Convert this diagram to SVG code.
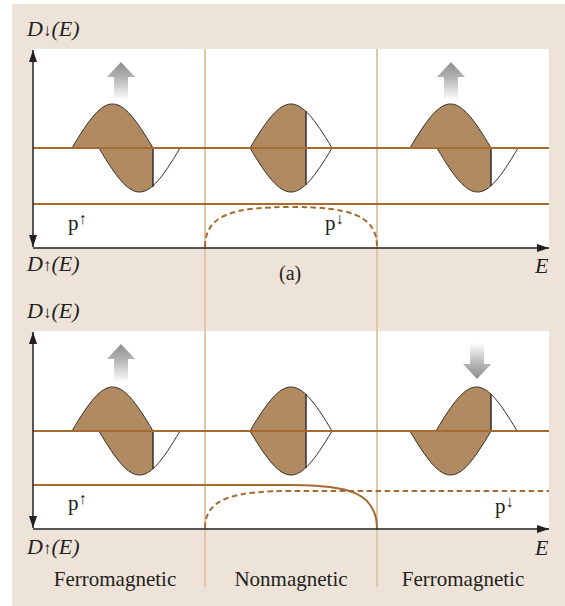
<svg xmlns="http://www.w3.org/2000/svg" width="565" height="606" viewBox="0 0 565 606">
<style>
.bg{fill:#ede3d8}
.panel{fill:#ffffff}
.div{stroke:#e0c7a9;stroke-width:2;fill:none}
.fl{fill:#b08a60;stroke:none}
.cv{fill:none;stroke:#3a2f27;stroke-width:1}
.vl{stroke:#2a2420;stroke-width:1.4}
.br{stroke:#a76a30;stroke-width:2;fill:none}
.dash{stroke:#a76a30;stroke-width:2;fill:none;stroke-dasharray:5.5,3.5}
.ax{stroke:#231f20;stroke-width:1.5;fill:none}
text{fill:#231f20}
.it{font-style:italic}
</style>
<defs>
<marker id="ah" viewBox="0 0 12 8" refX="12" refY="4" markerWidth="12" markerHeight="8" markerUnits="userSpaceOnUse" orient="auto-start-reverse">
<path d="M0,0 L12,4 L0,8 Z" fill="#231f20"/>
</marker>
<linearGradient id="gUp" x1="0" y1="0" x2="0" y2="1">
<stop offset="0" stop-color="#8e8e8e"/>
<stop offset="0.4" stop-color="#b2b2b2"/>
<stop offset="1" stop-color="#ffffff"/>
</linearGradient>
<linearGradient id="gDn" x1="0" y1="0" x2="0" y2="1">
<stop offset="0" stop-color="#ffffff"/>
<stop offset="0.6" stop-color="#b2b2b2"/>
<stop offset="1" stop-color="#8e8e8e"/>
</linearGradient>
<clipPath id="cL"><rect x="0" y="0" width="153" height="606"/></clipPath>
<clipPath id="cC"><rect x="0" y="0" width="306" height="606"/></clipPath>
<clipPath id="cR"><rect x="0" y="0" width="491" height="606"/></clipPath>
</defs>

<rect class="bg" x="12" y="4" width="553" height="602"/>
<rect class="panel" x="33" y="49" width="516" height="199"/>
<rect class="panel" x="33" y="331" width="516" height="198"/>

<g id="dividers">
<line class="div" x1="205" y1="49" x2="205" y2="587"/>
<line class="div" x1="377" y1="49" x2="377" y2="587"/>
</g>

<!-- Panel (a) -->
<g id="a-left">
<path class="fl" d="M72,148 C106.4,89.3 118.6,89.3 153,148 Z"/>
<path class="cv" d="M72,148 C106.4,89.3 118.6,89.3 153,148"/>
<path class="fl" clip-path="url(#cL)" d="M99,148 C133.4,206.7 145.6,206.7 180,148 Z"/>
<path class="cv" d="M99,148 C133.4,206.7 145.6,206.7 180,148"/>
<line class="vl" x1="153" y1="148" x2="153" y2="187"/>
<polygon fill="url(#gUp)" points="121,62 135,77 128,77 128,100 114,100 114,77 107,77"/>
</g>
<g id="a-center">
<path class="fl" clip-path="url(#cC)" d="M250,148 C284.8,89.3 297.2,89.3 332,148 C297.2,206.7 284.8,206.7 250,148 Z"/>
<path class="cv" d="M250,148 C284.8,89.3 297.2,89.3 332,148 C297.2,206.7 284.8,206.7 250,148"/>
<line class="vl" x1="306" y1="111" x2="306" y2="185"/>
</g>
<g id="a-right">
<path class="fl" d="M410,148 C444.4,89.3 456.6,89.3 491,148 Z"/>
<path class="cv" d="M410,148 C444.4,89.3 456.6,89.3 491,148"/>
<path class="fl" clip-path="url(#cR)" d="M437,148 C471.4,206.7 483.6,206.7 518,148 Z"/>
<path class="cv" d="M437,148 C471.4,206.7 483.6,206.7 518,148"/>
<line class="vl" x1="491" y1="148" x2="491" y2="186"/>
<polygon fill="url(#gUp)" points="451,62 465,77 458,77 458,100 444,100 444,77 437,77"/>
</g>

<!-- Panel (b) -->
<g id="b-left">
<path class="fl" d="M72,431 C106.4,372.3 118.6,372.3 153,431 Z"/>
<path class="cv" d="M72,431 C106.4,372.3 118.6,372.3 153,431"/>
<path class="fl" clip-path="url(#cL)" d="M99,431 C133.4,489.7 145.6,489.7 180,431 Z"/>
<path class="cv" d="M99,431 C133.4,489.7 145.6,489.7 180,431"/>
<line class="vl" x1="153" y1="431" x2="153" y2="469"/>
<polygon fill="url(#gUp)" points="121,344 135,359 128,359 128,382 114,382 114,359 107,359"/>
</g>
<g id="b-center">
<path class="fl" clip-path="url(#cC)" d="M250,431 C284.8,372.3 297.2,372.3 332,431 C297.2,489.7 284.8,489.7 250,431 Z"/>
<path class="cv" d="M250,431 C284.8,372.3 297.2,372.3 332,431 C297.2,489.7 284.8,489.7 250,431"/>
<line class="vl" x1="306" y1="394" x2="306" y2="468"/>
</g>
<g id="b-right">
<path class="fl" clip-path="url(#cR)" d="M436,431 C470.4,372.3 482.6,372.3 517,431 Z"/>
<path class="cv" d="M436,431 C470.4,372.3 482.6,372.3 517,431"/>
<path class="fl" d="M410,431 C444.4,489.7 456.6,489.7 491,431 Z"/>
<path class="cv" d="M410,431 C444.4,489.7 456.6,489.7 491,431"/>
<line class="vl" x1="491" y1="431" x2="491" y2="394"/>
<polygon fill="url(#gDn)" points="470,343 484,343 484,364 491,364 477,379 463,364 470,364"/>
</g>

<g id="connectors">
<line class="br" x1="33" y1="148" x2="549" y2="148"/>
<line class="br" x1="33" y1="204" x2="549" y2="204"/>
<path class="dash" d="M205,247 C205,214 235,207 291,207 C347,207 377,214 377,247"/>
<line class="br" x1="33" y1="431" x2="549" y2="431"/>
<path class="br" d="M33,485 L291,485 C347,485 377,492 377,529"/>
<path class="dash" d="M205,528 C205,498 235,491 291,491 L549,491"/>
<line class="ax" x1="33" y1="50" x2="33" y2="247" marker-start="url(#ah)" marker-end="url(#ah)"/>
<line class="ax" x1="33" y1="248" x2="549" y2="248" marker-end="url(#ah)"/>
<line class="ax" x1="33" y1="332" x2="33" y2="528" marker-start="url(#ah)" marker-end="url(#ah)"/>
<line class="ax" x1="33" y1="529" x2="549" y2="529" marker-end="url(#ah)"/>
</g>

<g id="labels" font-family="'Liberation Serif', 'DejaVu Serif', serif">
<text class="it" x="27" y="36" font-size="22">D<tspan font-style="normal" font-size="17">↓</tspan>(E)</text>
<text class="it" x="27" y="271" font-size="22">D<tspan font-style="normal" font-size="17">↑</tspan>(E)</text>
<text x="279" y="280" font-size="20">(a)</text>
<text class="it" x="535" y="273" font-size="22">E</text>
<text x="68" y="230" font-size="21">p<tspan font-size="16" dy="-6">↑</tspan></text>
<text x="325" y="230" font-size="21">p<tspan font-size="16" dy="-6">↓</tspan></text>
<text class="it" x="27" y="318" font-size="22">D<tspan font-style="normal" font-size="17">↓</tspan>(E)</text>
<text class="it" x="27" y="554" font-size="22">D<tspan font-style="normal" font-size="17">↑</tspan>(E)</text>
<text class="it" x="535" y="555" font-size="22">E</text>
<text x="68" y="510" font-size="21">p<tspan font-size="16" dy="-6">↑</tspan></text>
<text x="495" y="513" font-size="21">p<tspan font-size="16" dy="-6">↓</tspan></text>
<text x="115" y="586" font-size="21" text-anchor="middle">Ferromagnetic</text>
<text x="291" y="586" font-size="21" text-anchor="middle">Nonmagnetic</text>
<text x="463" y="586" font-size="21" text-anchor="middle">Ferromagnetic</text>
</g>
</svg>
